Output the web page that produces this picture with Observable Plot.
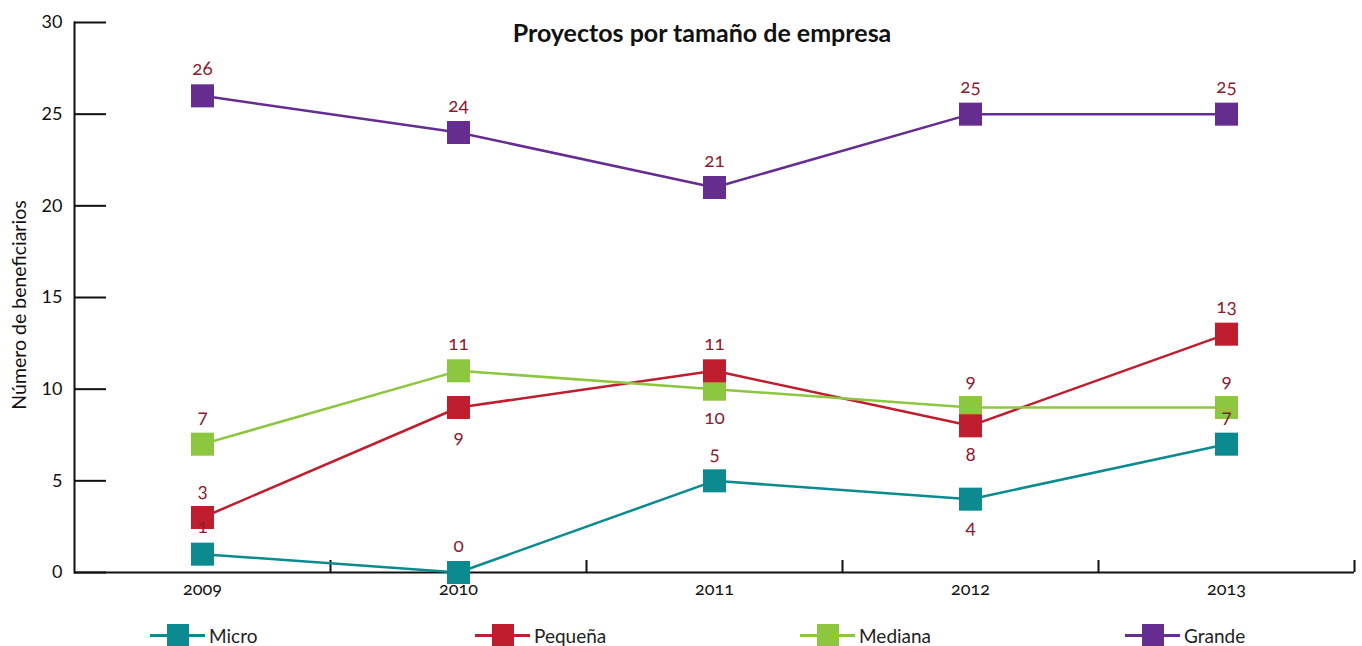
<!DOCTYPE html>
<html><head><meta charset="utf-8">
<script src="https://cdn.jsdelivr.net/npm/d3@7"></script>
<script src="https://cdn.jsdelivr.net/npm/@observablehq/plot@0.6"></script>
<style>
body{margin:0;background:#fff;font-family:Lato,"Open Sans",sans-serif;font-variant-numeric:oldstyle-nums;}
#wrap{position:relative;width:1362px;height:646px;overflow:hidden;}
#title{position:absolute;left:0;width:1404px;top:17px;text-align:center;font-weight:bold;font-size:25px;color:#111;}
#legend{position:absolute;top:622px;left:150px;display:flex;}
.item{width:325px;display:flex;align-items:center;height:26px;font-size:19px;color:#222;}
.sw{position:relative;width:55px;height:22px;margin-right:4px;}
.sw .ln{position:absolute;left:0;right:0;top:10px;height:2.5px;}
.sw .sq{position:absolute;left:17px;top:0;width:22px;height:22px;}
#ytitle{position:absolute;left:18px;top:305px;transform:translate(-50%,-50%) rotate(-90deg);white-space:nowrap;font-size:19.5px;color:#111;}
</style></head>
<body>
<div id="wrap">
  <div id="chart"></div>
  <div id="title">Proyectos por tamaño de empresa</div>
  <div id="ytitle">Número de beneficiarios</div>
  <div id="legend"></div>
</div>
<script>
const years = ["2009", "2010", "2011", "2012", "2013"];
const seriesNames = ["Micro", "Pequeña", "Mediana", "Grande"];
const micro = [1, 0, 5, 4, 7];
const pequena = [3, 9, 11, 8, 13];
const mediana = [7, 11, 10, 9, 9];
const grande = [26, 24, 21, 25, 25];
const colors = ["#0b8a90", "#be1e2d", "#8dc63f", "#662d91"];
const yTicks = [0, 5, 10, 15, 20, 25, 30];
// labels drawn under their marker instead of above
const labelsBelow = [["Pequeña", "2010"], ["Mediana", "2011"], ["Pequeña", "2012"], ["Micro", "2012"]];

const valuesBySeries = [micro, pequena, mediana, grande];
const data = [];
seriesNames.forEach((s, i) => years.forEach((y, j) => data.push({series: s, year: y, value: valuesBySeries[i][j]})));
const isBelow = d => labelsBelow.some(([s, y]) => s === d.series && y === d.year);
const drawOrder = ["Micro", "Mediana", "Pequeña", "Grande"];
const dotData = drawOrder.flatMap(s => data.filter(d => d.series === s));

const W = 1362, H = 600, mL = 74, mR = 8, mT = 22, mB = 28;
const half = (W - mL - mR) / years.length / 2;

const chart = Plot.plot({
  width: W, height: H,
  marginTop: mT, marginBottom: mB, marginLeft: mL, marginRight: mR,
  style: {fontFamily: "Lato, 'Open Sans', sans-serif", fontSize: "16px", color: "#111", background: "#fff"},
  x: {type: "band", domain: years, padding: 0},
  y: {domain: [0, 30]},
  color: {domain: seriesNames, range: colors},
  marks: [
    Plot.axisY(yTicks, {tickSize: -32, strokeWidth: 2, text: null, label: null}),
    Plot.axisY(yTicks, {tickSize: 0, tickPadding: 12, fontSize: 18, label: null}),
    Plot.axisX({tickSize: -12, dx: half, strokeWidth: 2, text: null, label: null}),
    Plot.axisX({tickSize: 0, tickPadding: 10, fontSize: 18, label: null}),
    Plot.frame({anchor: "left", strokeWidth: 2, stroke: "#111"}),
    Plot.ruleY([0], {strokeWidth: 2, stroke: "#111"}),
    Plot.line(data, {x: "year", y: "value", z: "series", stroke: "series", strokeWidth: 2.5}),
    Plot.dot(dotData, {x: "year", y: "value", fill: "series", symbol: "square", r: 13}),
    Plot.text(data.filter(d => !isBelow(d)), {x: "year", y: "value", text: d => String(d.value), dy: -27, fill: "#8f1b2c", fontSize: 19}),
    Plot.text(data.filter(isBelow), {x: "year", y: "value", text: d => String(d.value), dy: 29, fill: "#8f1b2c", fontSize: 19})
  ]
});
document.getElementById("chart").appendChild(chart);

const legend = document.getElementById("legend");
seriesNames.forEach((s, i) => {
  const item = document.createElement("div");
  item.className = "item";
  item.innerHTML = `<div class="sw"><div class="ln" style="background:${colors[i]}"></div><div class="sq" style="background:${colors[i]}"></div></div><span>${s}</span>`;
  legend.appendChild(item);
});
</script>
</body></html>
